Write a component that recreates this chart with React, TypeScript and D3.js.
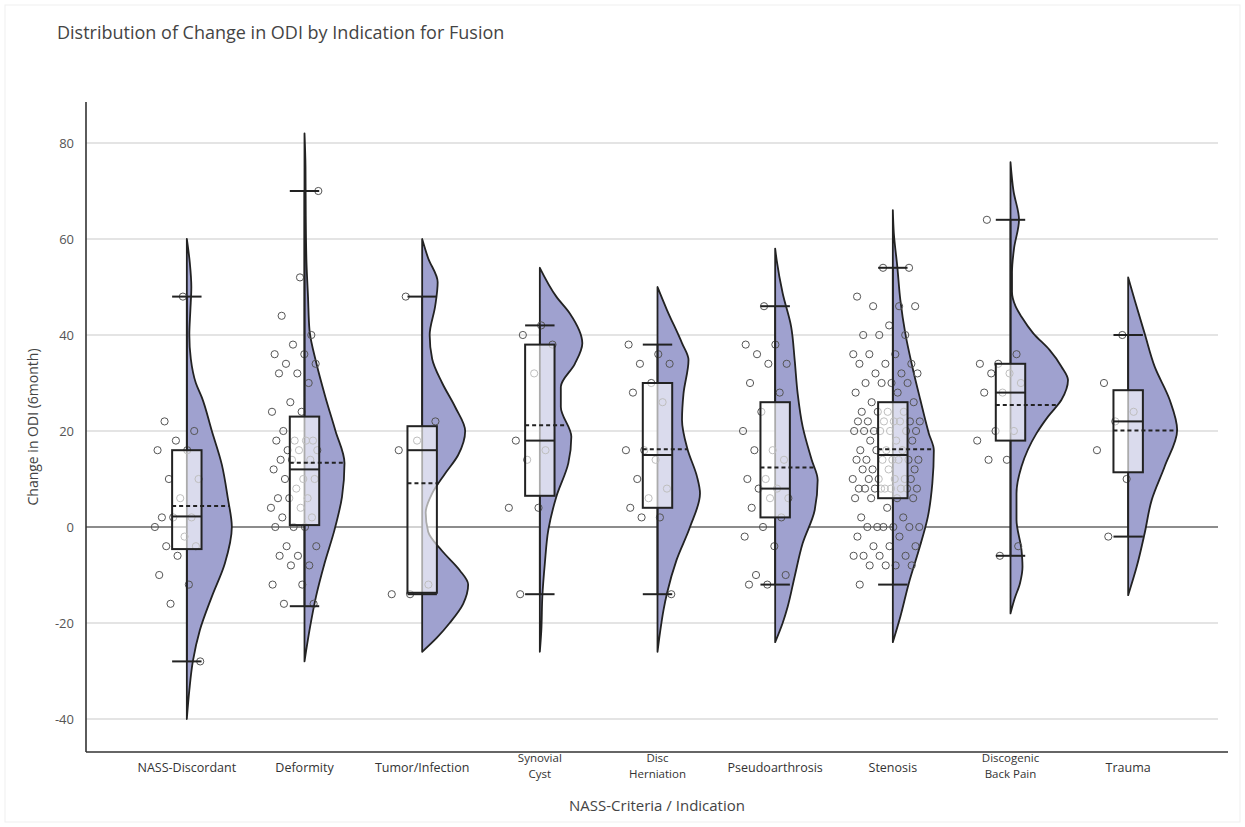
import React from "react";
import * as d3 from "d3";

// ---------- data ----------
const categories = [
  "NASS-Discordant",
  "Deformity",
  "Tumor/Infection",
  "Synovial Cyst",
  "Disc Herniation",
  "Pseudoarthrosis",
  "Stenosis",
  "Discogenic Back Pain",
  "Trauma",
];
const categoryLabelLines = [
  ["NASS-Discordant"],
  ["Deformity"],
  ["Tumor/Infection"],
  ["Synovial", "Cyst"],
  ["Disc", "Herniation"],
  ["Pseudoarthrosis"],
  ["Stenosis"],
  ["Discogenic", "Back Pain"],
  ["Trauma"],
];
const yTicks = [-40, -20, 0, 20, 40, 60, 80];

// individual observations (change in ODI)
const nassValues = [48, 22, 20, 18, 16, 16, 10, 10, 6, 2, 2, 2, 0, -2, -4, -4, -6, -10, -12, -16, -28];
const deformityValues = [70, 52, 44, 40, 38, 36, 36, 34, 34, 32, 32, 30, 26, 24, 24, 20, 18, 18, 18, 18, 16, 16, 16, 14, 14, 14, 12, 10, 10, 10, 8, 6, 6, 6, 4, 4, 2, 2, 0, 0, 0, -4, -4, -6, -6, -8, -8, -12, -12, -16, -16];
const tumorValues = [48, 22, 18, 16, -12, -14, -14];
const synovialValues = [42, 40, 38, 32, 18, 16, 14, 4, 4, -14];
const discValues = [38, 36, 34, 34, 30, 28, 26, 16, 16, 14, 10, 8, 6, 4, 2, 2, -14];
const pseudoValues = [46, 38, 38, 36, 34, 34, 30, 28, 24, 20, 16, 16, 14, 10, 10, 8, 8, 6, 6, 4, 2, 0, -2, -4, -10, -10, -12, -12];
const stenosisValues = [
  54, 54, 48, 46, 46, 46, 42, 40, 40, 40, 36, 36, 36, 34, 34, 34, 32, 32, 32,
  30, 30, 30, 30, 28, 28, 26, 26, 24, 24, 24, 24,
  22, 22, 22, 22, 22, 22, 22, 20, 20, 20, 20, 20, 20, 20, 18, 18, 18,
  16, 16, 16, 16, 14, 14, 14, 14, 14, 14, 14, 12, 12, 12, 12,
  10, 10, 10, 10, 10, 10, 8, 8, 8, 8, 8, 8, 8, 8, 8, 6, 6, 6, 6, 4, 2, 2,
  0, 0, 0, 0, 0, 0, -2, -2, -4, -4, -4, -6, -6, -6, -6, -8, -8, -8, -8, -12,
];
const discogenicValues = [64, 36, 34, 34, 32, 32, 30, 28, 28, 20, 20, 18, 14, 14, -4, -6];
const traumaValues = [40, 30, 24, 22, 16, 10, -2];

const pointValues = [
  nassValues, deformityValues, tumorValues, synovialValues, discValues,
  pseudoValues, stenosisValues, discogenicValues, traumaValues,
];

// box-plot summaries
const q1Values = [-4.6, 0.4, -13.7, 6.5, 4, 2, 6, 18, 11.4];
const q3Values = [16, 23, 21, 38, 30, 26, 26, 34, 28.5];
const medianValues = [2.2, 12, 16, 18, 15, 8, 15, 28, 22];
const meanValues = [4.4, 13.4, 9.1, 21.2, 16.2, 12.4, 16.2, 25.4, 20.1];
const whiskerLowValues = [-28, -16.5, -14, -14, -14, -12, -12, -6, -2];
const whiskerHighValues = [48, 70, 48, 42, 38, 46, 54, 64, 40];

// half-violin density profiles: [value, relative density]
const nassDensity = [[60, 0], [55, 0.06], [50, 0.09], [45, 0.07], [40, 0.05], [35, 0.08], [30, 0.18], [27, 0.3], [20, 0.5], [13, 0.7], [6, 0.82], [0, 0.9], [-7.6, 0.76], [-14.5, 0.5], [-21.5, 0.26], [-28, 0.12], [-34, 0.05], [-40, 0]];
const deformityDensity = [[82, 0], [75, 0.02], [65, 0.025], [55, 0.04], [48, 0.07], [41, 0.1], [34, 0.24], [27, 0.42], [20, 0.62], [13.3, 0.8], [6.3, 0.75], [-0.6, 0.6], [-7.6, 0.4], [-14.5, 0.23], [-21.5, 0.1], [-28, 0]];
const tumorDensity = [[60, 0], [56, 0.12], [51, 0.31], [46, 0.26], [40, 0.15], [35, 0.2], [30, 0.4], [25, 0.66], [20, 0.86], [15, 0.72], [11, 0.45], [7, 0.2], [3, 0.07], [-1, 0.12], [-5, 0.4], [-9, 0.75], [-12, 0.92], [-16, 0.82], [-20, 0.55], [-23, 0.3], [-26, 0]];
const synovialDensity = [[54, 0], [48, 0.33], [44.5, 0.6], [38.3, 0.85], [34, 0.7], [29.2, 0.42], [25, 0.42], [18.8, 0.63], [13.3, 0.57], [6.3, 0.33], [-0.6, 0.17], [-7.6, 0.1], [-14.5, 0.05], [-21.5, 0.03], [-26, 0]];
const discDensity = [[50, 0], [45.2, 0.19], [38.3, 0.49], [34.8, 0.62], [27.8, 0.52], [22.3, 0.49], [16.2, 0.6], [10.5, 0.79], [7, 0.85], [0, 0.65], [-6.9, 0.38], [-13.8, 0.19], [-17.3, 0.12], [-22, 0.05], [-26, 0]];
const pseudoDensity = [[58, 0], [55.6, 0.03], [48.7, 0.15], [41.7, 0.32], [34.8, 0.39], [27.8, 0.45], [20.9, 0.55], [14, 0.73], [9.8, 0.85], [3.5, 0.79], [-3.4, 0.55], [-10.3, 0.39], [-16.6, 0.25], [-20, 0.15], [-24, 0]];
const stenosisDensity = [[66, 0], [61.2, 0.02], [54.2, 0.09], [47.3, 0.15], [40.3, 0.25], [33.4, 0.39], [26.5, 0.55], [19.5, 0.72], [16, 0.82], [9.1, 0.79], [2.1, 0.7], [-4.8, 0.52], [-11.7, 0.32], [-18.7, 0.15], [-24, 0]];
const discogenicDensity = [[76, 0], [70, 0.06], [64, 0.17], [58, 0.07], [53, 0.03], [49, 0.03], [46, 0.1], [43.8, 0.22], [40.3, 0.46], [36.9, 0.78], [33.4, 1.02], [30.6, 1.15], [26.5, 1.02], [23, 0.75], [19.5, 0.52], [12.6, 0.22], [7, 0.12], [1.5, 0.12], [-4.8, 0.22], [-8.3, 0.24], [-11.7, 0.19], [-15, 0.08], [-18, 0]];
const traumaDensity = [[52, 0], [47.3, 0.13], [40.3, 0.33], [33.4, 0.53], [26.5, 0.83], [20.2, 0.98], [12.6, 0.73], [5.6, 0.47], [-1.3, 0.33], [-8.3, 0.17], [-14.2, 0]];

const densityProfiles = [
  nassDensity, deformityDensity, tumorDensity, synovialDensity, discDensity,
  pseudoDensity, stenosisDensity, discogenicDensity, traumaDensity,
];

// ---------- layout ----------
const W = 1245;
const H = 827;
const FONT = "'Open Sans', 'Noto Sans', sans-serif";
const VIOLIN_FILL = "#9fa1cf";
const INK = "#222";

export default function App() {
  const x = d3.scaleBand<string>().domain(categories).range([128, 1187]).paddingInner(0).paddingOuter(0);
  const y = d3.scaleLinear().domain([-40, 80]).range([719, 143]);
  const dens = d3.scaleLinear().domain([0, 1]).range([0, 50]);
  const axisLeft = 86;
  const axisRight = 1218;
  const axisTop = 102;
  const axisBottom = 752;
  const boxHalf = x.bandwidth() * 0.125;

  const groups = categories.map((cat, g) => {
    const cx = (x(cat) as number) + x.bandwidth() / 2;
    const profile = densityProfiles[g] as [number, number][];
    const area = d3
      .area<[number, number]>()
      .y((d) => y(d[0]))
      .x0(cx)
      .x1((d) => cx + Math.max(0, dens(d[1])))
      .curve(d3.curveMonotoneY);
    const widthAt = d3
      .scaleLinear()
      .domain(profile.map((d) => d[0]))
      .range(profile.map((d) => d[1]))
      .clamp(true);
    const vals = pointValues[g];
    const big = vals.length > 60;
    const spread = big ? 68 : 48;
    const start = big ? -0.6 : -0.7;
    const pts = vals.map((v, i) => {
      const u = ((i + 1) * 0.6180339887 + g * 0.37) % 1;
      return { px: cx + spread * start + u * spread, py: y(v) };
    });
    return { cat, g, cx, path: area(profile.slice().reverse()) || "", widthAt, pts };
  });

  return (
    <svg
      width={W}
      height={H}
      viewBox={`0 0 ${W} ${H}`}
      style={{ position: "absolute", left: 0, top: 0, background: "#fff", fontFamily: FONT }}
    >
      <rect x={0} y={0} width={W} height={H} fill="#fff" />
      <rect x={5} y={5} width={W - 10} height={H - 10} fill="none" stroke="#efefef" />
      <text x={57} y={39} fontSize={18} fill="#444">
        Distribution of Change in ODI by Indication for Fusion
      </text>

      {/* grid */}
      {yTicks.map((t) => (
        <g key={t}>
          <line
            x1={axisLeft}
            x2={axisRight}
            y1={y(t)}
            y2={y(t)}
            stroke={t === 0 ? "#666" : "#c9c9c9"}
            strokeWidth={t === 0 ? 1.6 : 1.1}
          />
          <text x={74} y={y(t) + 4.5} fontSize={13} fill="#555" textAnchor="end">
            {t}
          </text>
        </g>
      ))}

      {/* groups */}
      {groups.map(({ cat, g, cx, path, widthAt, pts }) => {
        const bl = cx - boxHalf;
        const br = cx + boxHalf;
        const meanY = y(meanValues[g]);
        return (
          <g key={cat}>
            <path d={path} fill={VIOLIN_FILL} stroke={INK} strokeWidth={1.8} strokeLinejoin="round" />
            {pts.map((p, i) => (
              <circle key={i} cx={p.px} cy={p.py} r={3.6} fill="none" stroke="#555" strokeWidth={1} />
            ))}
            <rect
              x={bl}
              y={y(q3Values[g])}
              width={br - bl}
              height={y(q1Values[g]) - y(q3Values[g])}
              fill="#fff"
              fillOpacity={0.62}
              stroke={INK}
              strokeWidth={2}
            />
            <line x1={cx} x2={cx} y1={y(whiskerHighValues[g])} y2={y(q3Values[g])} stroke={INK} strokeWidth={1.8} />
            <line x1={cx} x2={cx} y1={y(q1Values[g])} y2={y(whiskerLowValues[g])} stroke={INK} strokeWidth={1.8} />
            <line x1={bl} x2={br} y1={y(whiskerHighValues[g])} y2={y(whiskerHighValues[g])} stroke={INK} strokeWidth={2} />
            <line x1={bl} x2={br} y1={y(whiskerLowValues[g])} y2={y(whiskerLowValues[g])} stroke={INK} strokeWidth={2} />
            <line x1={bl} x2={br} y1={y(medianValues[g])} y2={y(medianValues[g])} stroke={INK} strokeWidth={2} />
            <line
              x1={bl}
              x2={Math.max(br, cx + dens(widthAt(meanValues[g])))}
              y1={meanY}
              y2={meanY}
              stroke={INK}
              strokeWidth={2}
              strokeDasharray="4 3"
            />
          </g>
        );
      })}

      {/* axes */}
      <line x1={axisLeft} x2={axisLeft} y1={axisTop} y2={axisBottom} stroke="#333" strokeWidth={1.6} />
      <line x1={axisLeft} x2={axisRight + 10} y1={axisBottom} y2={axisBottom} stroke="#333" strokeWidth={1.6} />

      {categoryLabelLines.map((lines, g) => {
        const cx = (x(categories[g]) as number) + x.bandwidth() / 2;
        const start = lines.length === 1 ? 772 : 762;
        return (
          <g key={g}>
            {lines.map((l, k) => (
              <text key={k} x={cx} y={start + k * 15.5} fontSize={lines.length === 1 ? 12.5 : 11.5} fill="#333" textAnchor="middle">
                {l}
              </text>
            ))}
          </g>
        );
      })}

      <text x={657} y={811} fontSize={15} fill="#444" textAnchor="middle">
        NASS-Criteria / Indication
      </text>
      <text
        transform={`translate(38, ${(axisTop + axisBottom) / 2}) rotate(-90)`}
        fontSize={14}
        fill="#444"
        textAnchor="middle"
      >
        Change in ODI (6month)
      </text>
    </svg>
  );
}
